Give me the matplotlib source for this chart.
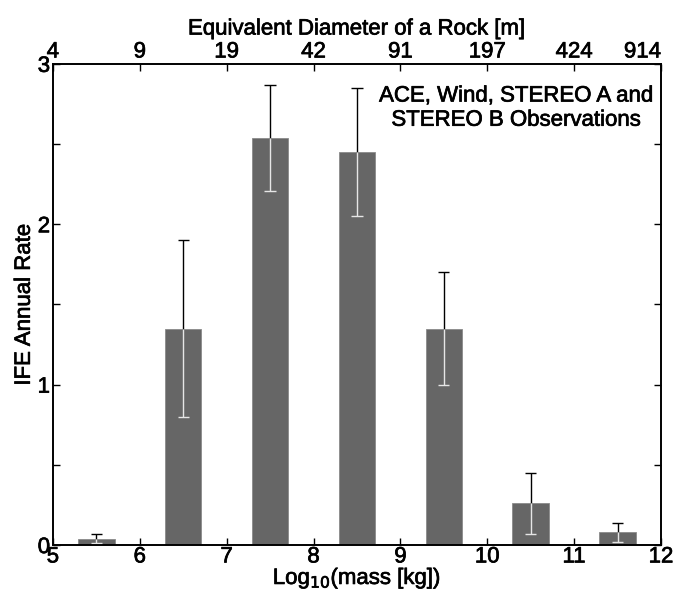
import matplotlib.pyplot as plt
import matplotlib.patheffects as pe

plt.rcParams['font.family'] = ['Liberation Sans', 'DejaVu Sans']

# log10 mass bins (bar centres), annual IFE rates and their uncertainties
mass_bins = [5.5, 6.5, 7.5, 8.5, 9.5, 10.5, 11.5]
rates = [0.04, 1.35, 2.54, 2.45, 1.35, 0.26, 0.08]
errors = [0.03, 0.55, 0.33, 0.40, 0.35, 0.19, 0.06]

# equivalent rock diameters for the top axis
mass_ticks = [5, 6, 7, 8, 9, 10, 11, 12]
diameters = ['4', '9', '19', '42', '91', '197', '424', '914']

heavy = [pe.withStroke(linewidth=0.5, foreground='black')]
fs = 16

fig = plt.figure(figsize=(6.78, 5.97), dpi=100)
ax = fig.add_axes([0.078, 0.087, 0.897, 0.806])

ax.bar(mass_bins, rates, width=0.42, color='#666666', edgecolor='#8a8a8a', linewidth=0.6, zorder=2)

upper = [r + e for r, e in zip(rates, errors)]
lower = [r - e for r, e in zip(rates, errors)]
cap = 0.065
left = [x - cap for x in mass_bins]
right = [x + cap for x in mass_bins]

# black part of each error bar above the bar, light part inside it
ax.vlines(mass_bins, rates, upper, color='black', linewidth=1.0, zorder=3)
ax.hlines(upper, left, right, color='black', linewidth=1.0, zorder=3)
ax.vlines(mass_bins, lower, rates, color='#e6e6e6', linewidth=1.0, zorder=3)
ax.hlines(lower, left, right, color='#e6e6e6', linewidth=1.0, zorder=3)

ax.set_xlim(5, 12)
ax.set_ylim(0, 3)
ax.set_xticks(mass_ticks)
ax.set_yticks([0, 1, 2, 3])
ax.set_yticks([0.5, 1.5, 2.5], minor=True)
ax.tick_params(which='both', direction='in', top=False, right=True, labelsize=fs, length=5, width=1)
ax.tick_params(axis='x', pad=1)
ax.tick_params(axis='y', pad=2)

ax.set_xlabel('Log$_{10}$(mass [kg])', fontsize=fs, labelpad=-1)
ax.set_ylabel('IFE Annual Rate', fontsize=fs, labelpad=2)

top = ax.twiny()
top.set_xlim(ax.get_xlim())
top.set_xticks(mass_ticks)
top.set_xticklabels(diameters)
top.tick_params(direction='in', labelsize=fs, length=5, width=1, pad=1)
top.set_xlabel('Equivalent Diameter of a Rock [m]', fontsize=fs, labelpad=5)
# keep the last diameter label inside the figure
top.get_xticklabels()[-1].set_horizontalalignment('right')

for spine in list(ax.spines.values()) + list(top.spines.values()):
    spine.set_linewidth(1.2)

ax.text(0.762, 0.955, 'ACE, Wind, STEREO A and\nSTEREO B Observations',
        transform=ax.transAxes, ha='center', va='top', fontsize=fs, linespacing=1.2)

for t in (ax.get_xticklabels() + ax.get_yticklabels() + top.get_xticklabels()
          + [ax.xaxis.label, ax.yaxis.label, top.xaxis.label] + ax.texts):
    t.set_path_effects(heavy)

fig.savefig('out.png', dpi=100)
